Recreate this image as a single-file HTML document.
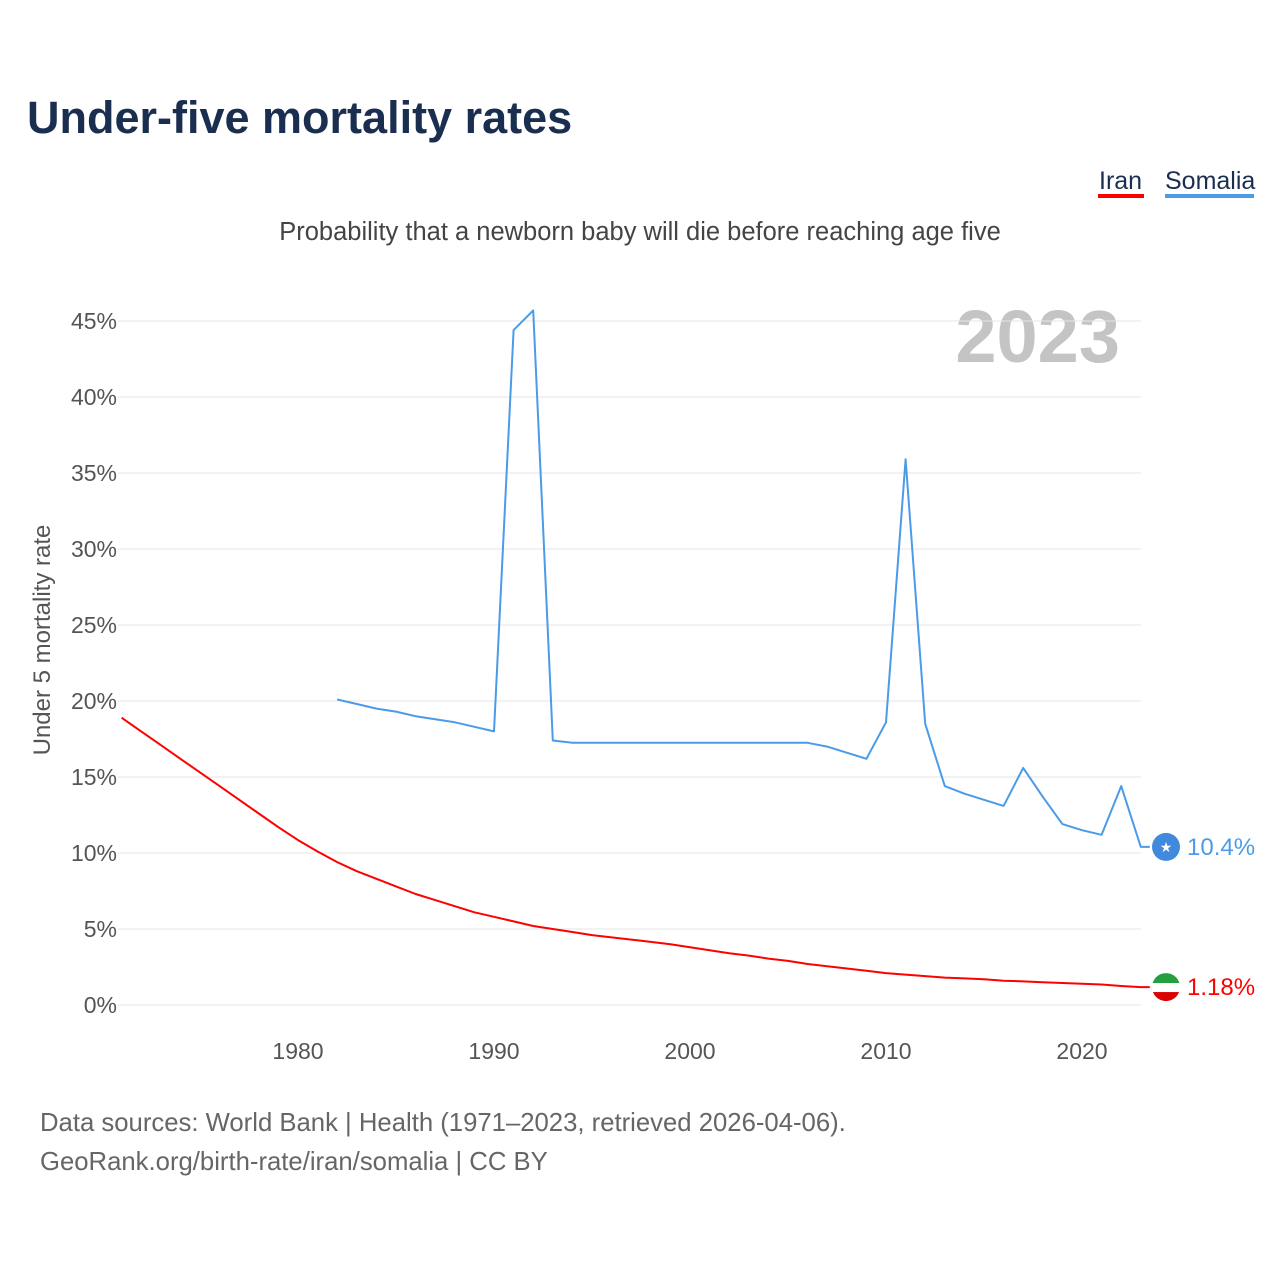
<!DOCTYPE html>
<html><head><meta charset="utf-8"><style>
body{margin:0;background:#fff;font-family:"Liberation Sans",sans-serif;}
#wrap{position:relative;width:1280px;height:1280px;overflow:hidden;}
</style></head><body>
<div id="wrap">
<svg id="chart" width="1280" height="1280">
<text x="27" y="133" font-size="45" font-weight="bold" fill="#1a2e4f">Under-five mortality rates</text>
<text x="1099" y="189" font-size="25" fill="#1a2e4f">Iran</text>
<rect x="1098" y="194" width="46" height="4" fill="#ff0000"/>
<text x="1165" y="189" font-size="25" fill="#1a2e4f">Somalia</text>
<rect x="1165" y="194" width="89" height="4" fill="#4a9be8"/>
<text x="640" y="240" font-size="25.5" fill="#444" text-anchor="middle">Probability that a newborn baby will die before reaching age five</text>
<text x="1120" y="362" font-size="74" font-weight="bold" fill="#c4c4c4" text-anchor="end">2023</text>
<text transform="translate(50,640) rotate(-90)" font-size="24" fill="#555" text-anchor="middle">Under 5 mortality rate</text>
<g id="grid"></g><g id="series"></g>
<text x="40" y="1131" font-size="25.7" fill="#666">Data sources: World Bank | Health (1971–2023, retrieved 2026-04-06).</text>
<text x="40" y="1170" font-size="25.7" fill="#666">GeoRank.org/birth-rate/iran/somalia | CC BY</text>
</svg>
</div>
<script>
const yTicks=[0,5,10,15,20,25,30,35,40,45];
const xTicks=[1980,1990,2000,2010,2020];
const iranYears=[1971,1972,1973,1974,1975,1976,1977,1978,1979,1980,1981,1982,1983,1984,1985,1986,1987,1988,1989,1990,1991,1992,1993,1994,1995,1996,1997,1998,1999,2000,2001,2002,2003,2004,2005,2006,2007,2008,2009,2010,2011,2012,2013,2014,2015,2016,2017,2018,2019,2020,2021,2022,2023];
const iranValues=[18.9,18.0,17.1,16.2,15.3,14.4,13.5,12.6,11.7,10.85,10.1,9.4,8.8,8.3,7.8,7.3,6.9,6.5,6.1,5.8,5.5,5.2,5.0,4.8,4.6,4.45,4.3,4.15,4.0,3.8,3.6,3.4,3.25,3.05,2.9,2.7,2.55,2.4,2.25,2.1,2.0,1.9,1.8,1.75,1.7,1.6,1.55,1.5,1.45,1.4,1.35,1.25,1.18];
const somYears=[1982,1983,1984,1985,1986,1987,1988,1989,1990,1991,1992,1993,1994,1995,1996,1997,1998,1999,2000,2001,2002,2003,2004,2005,2006,2007,2008,2009,2010,2011,2012,2013,2014,2015,2016,2017,2018,2019,2020,2021,2022,2023];
const somValues=[20.1,19.8,19.5,19.3,19.0,18.8,18.6,18.3,18.0,44.4,45.7,17.4,17.25,17.25,17.25,17.25,17.25,17.25,17.25,17.25,17.25,17.25,17.25,17.25,17.25,17.0,16.6,16.2,18.6,35.9,18.5,14.4,13.9,13.5,13.1,15.6,13.7,11.9,11.5,11.2,14.4,10.4];
const NS='http://www.w3.org/2000/svg';
const xS=y=>298+(y-1980)*19.6;
const yS=v=>1005-v*15.2;
function mk(tag,attrs,parent,text){const e=document.createElementNS(NS,tag);for(const k in attrs)e.setAttribute(k,attrs[k]);if(text!==undefined)e.textContent=text;parent.appendChild(e);return e;}
const grid=document.getElementById('grid'),ser=document.getElementById('series');
yTicks.forEach(t=>{
 const l=mk('line',{x1:118,x2:1141,y1:yS(t),y2:yS(t),stroke:'#e6e6e6','stroke-width':1},grid);
 
 
 const tx=mk('text',{x:117,y:yS(t)+8,'font-size':23,fill:'#555','text-anchor':'end'},grid,t+'%');
 
 
});
xTicks.forEach(t=>{
 const tx=mk('text',{x:xS(t),y:1059,'font-size':23,fill:'#555','text-anchor':'middle'},grid,String(t));
 
 
});
function line(ys,vs,color,name){
 let d=ys.map((y,i)=>(i?'L':'M')+xS(y).toFixed(1)+','+yS(vs[i]).toFixed(1)).join(' ');
 d+=' L'+(xS(ys[ys.length-1])+9)+','+yS(vs[vs.length-1]).toFixed(1);
 const p=mk('path',{d:d,fill:'none',stroke:color,'stroke-width':2,'stroke-linejoin':'round'},ser);
 
 
}
line(somYears,somValues,'#4a9be8','somalia-line');
line(iranYears,iranValues,'#ff0000','iran-line');
const sv=somValues[somValues.length-1], iv=iranValues[iranValues.length-1];
const sf=mk('circle',{cx:1166,cy:yS(sv),r:14,fill:'#4189dd'},ser);


const st=mk('text',{x:1166,y:yS(sv)+5,'font-size':14,fill:'#fff','text-anchor':'middle'},ser,'★');


const sl=mk('text',{x:1187,y:yS(sv)+8,'font-size':24,fill:'#4a9be8'},ser,sv+'%');


const iy=yS(iv);
const g=mk('g',{},ser);


mk('clipPath',{id:'fc'},g);
mk('circle',{cx:1166,cy:iy,r:14},g.firstChild);
mk('rect',{x:1152,y:iy-14,width:28,height:10,fill:'#239f40','clip-path':'url(#fc)'},g);
mk('rect',{x:1152,y:iy-4,width:28,height:9,fill:'#fff','clip-path':'url(#fc)'},g);
mk('rect',{x:1152,y:iy+5,width:28,height:10,fill:'#da0000','clip-path':'url(#fc)'},g);
const il=mk('text',{x:1187,y:iy+8,'font-size':24,fill:'#ff0000'},ser,iv+'%');


</script>
</body></html>
